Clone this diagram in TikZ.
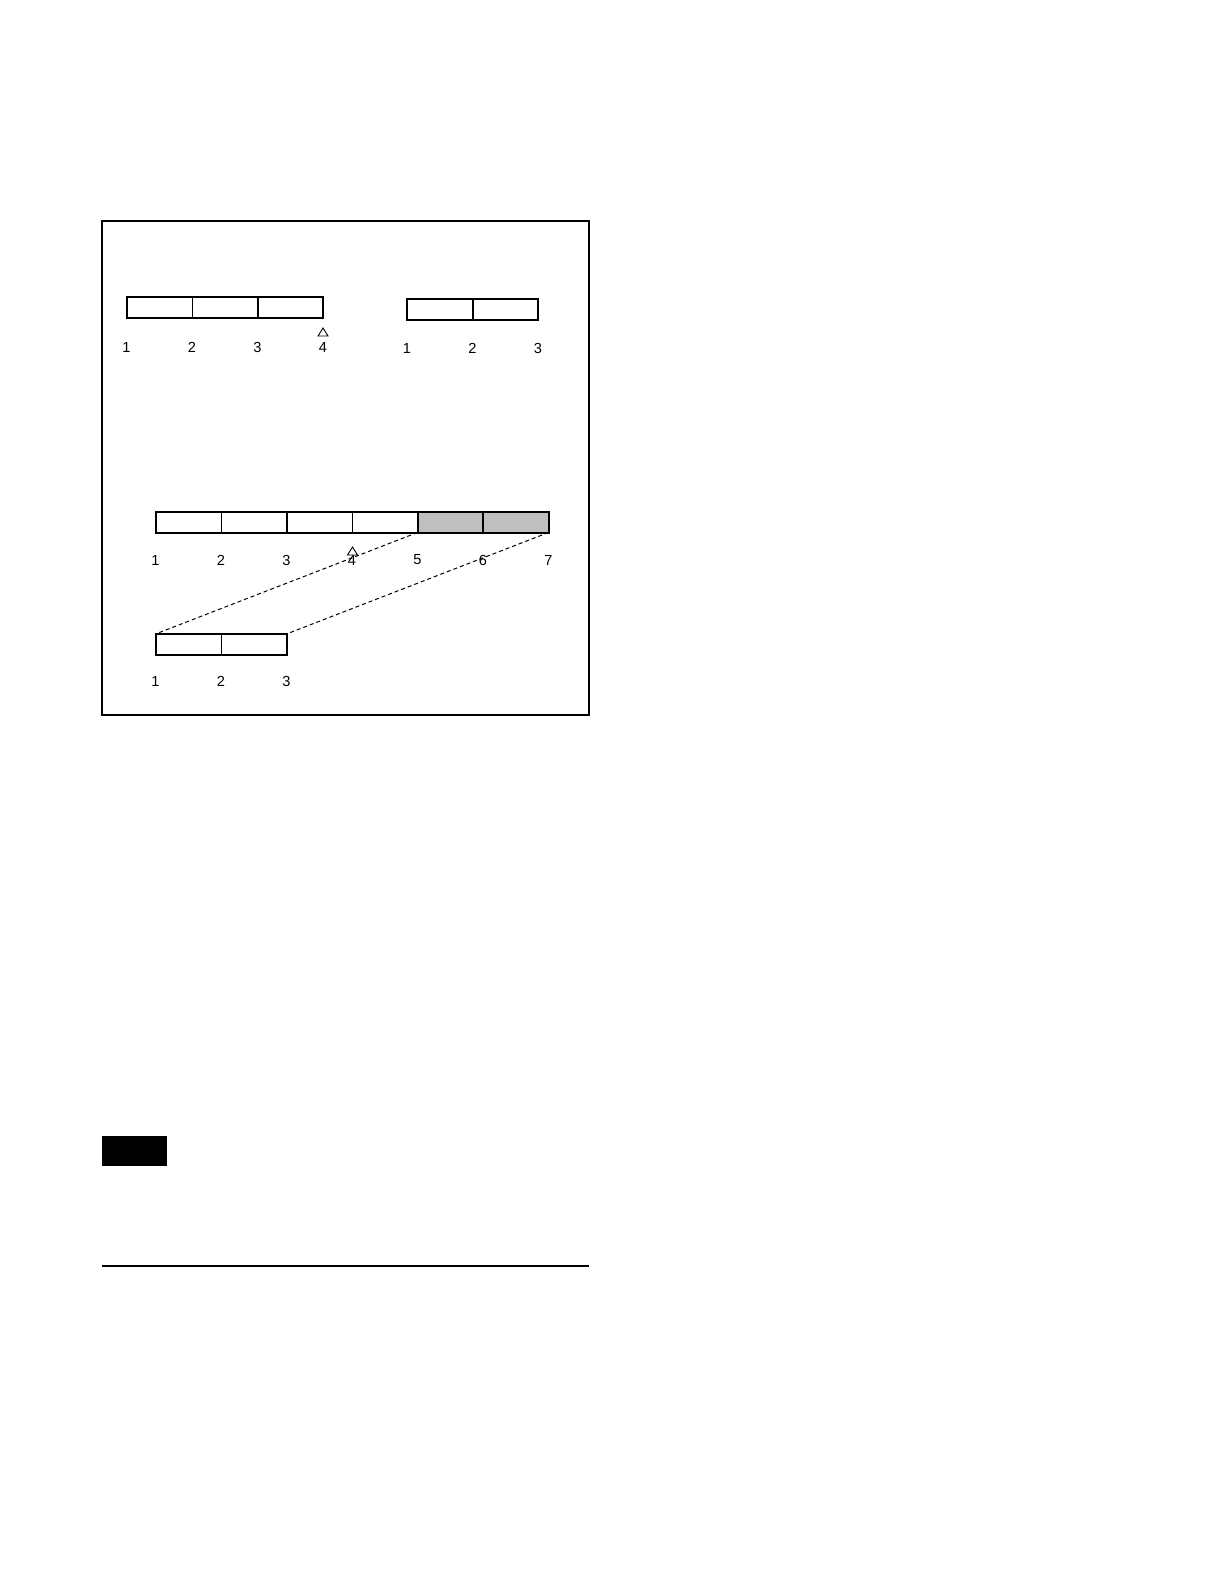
\documentclass[tikz,border=0pt]{standalone}
\usepackage{fontspec}
\setmainfont{Liberation Sans}
\usetikzlibrary{positioning}

\begin{document}
\begin{tikzpicture}[x=0.5pt,y=-0.5pt,line cap=rect]
  \tikzstyle{cell}=[rectangle,draw,line width=0.5pt,inner sep=0pt,outer sep=0pt,minimum width=32.75pt,minimum height=10.5pt,anchor=north west];
  \tikzstyle{bar}=[line width=1pt];
  \tikzstyle{num}=[inner sep=0pt,font=\fontsize{7.3}{8}\selectfont];
  \tikzstyle{mark4}=[line width=0.45pt];
  \tikzstyle{link}=[dash pattern=on 2pt off 1.5pt,line width=0.5pt,line cap=butt];
  \useasboundingbox (0,0) rectangle (1218,1588);

  % frame
  \draw [line width=0.8pt] (102,221) rectangle (589,715);

  % first bar
  \foreach \i in {1,2,3}
    \node[cell] (a\i) at ({126.5+65.5*(\i-1)},297) {};
  \draw [bar] (a1.north west) rectangle (a3.south east);
  \draw [bar] (a3.north west) -- (a3.south west);
  \foreach \i in {1,...,4}
    \node[num] (la\i) at ({126.5+65.5*(\i-1)},347) {\i};
  \coordinate (ta) at (323,336);
  \draw [mark4] (ta) ++(-5,0) -- ++(10,0) -- ++(-5,-8) -- cycle;

  % second bar
  \foreach \i in {1,2}
    \node[cell] (r\i) at ({407+65.5*(\i-1)},299) {};
  \draw [bar] (r1.north west) rectangle (r2.south east);
  \draw [bar] (r2.north west) -- (r2.south west);
  \foreach \i in {1,2,3}
    \node[num] (lr\i) at ({407+65.5*(\i-1)},348) {\i};

  % long bar
  \foreach \i in {1,...,4}
    \node[cell] (b\i) at ({155.5+65.5*(\i-1)},511.5) {};
  \foreach \i in {5,6}
    \node[cell,fill=black!25] (b\i) at ({155.5+65.5*(\i-1)},511.5) {};
  \draw [bar] (b1.north west) rectangle (b6.south east);
  \foreach \i in {3,5,6}
    \draw [bar] (b\i.north west) -- (b\i.south west);
  \foreach \i in {1,...,7}
    \node[num] (lb\i) at ({155.5+65.5*(\i-1)},560) {\i};
  \coordinate (tb) at (352.5,555);
  \draw [mark4] (tb) ++(-5,0) -- ++(10,0) -- ++(-5,-8) -- cycle;

  % short bar
  \foreach \i in {1,2}
    \node[cell] (c\i) at ({155.5+65.5*(\i-1)},634) {};
  \draw [bar] (c1.north west) rectangle (c2.south east);
  \foreach \i in {1,2,3}
    \node[num] (lc\i) at ({155.5+65.5*(\i-1)},681) {\i};

  % dashes
  \draw [link] (b5.south west) -- (c1.north west);
  \draw [link] (b6.south east) -- (c2.north east);

  % note and rule
  \fill [black] (102,1136) rectangle (166.5,1166);
  \draw [line width=0.65pt,line cap=butt] (102,1266) -- (589,1266);
\end{tikzpicture}
\end{document}
